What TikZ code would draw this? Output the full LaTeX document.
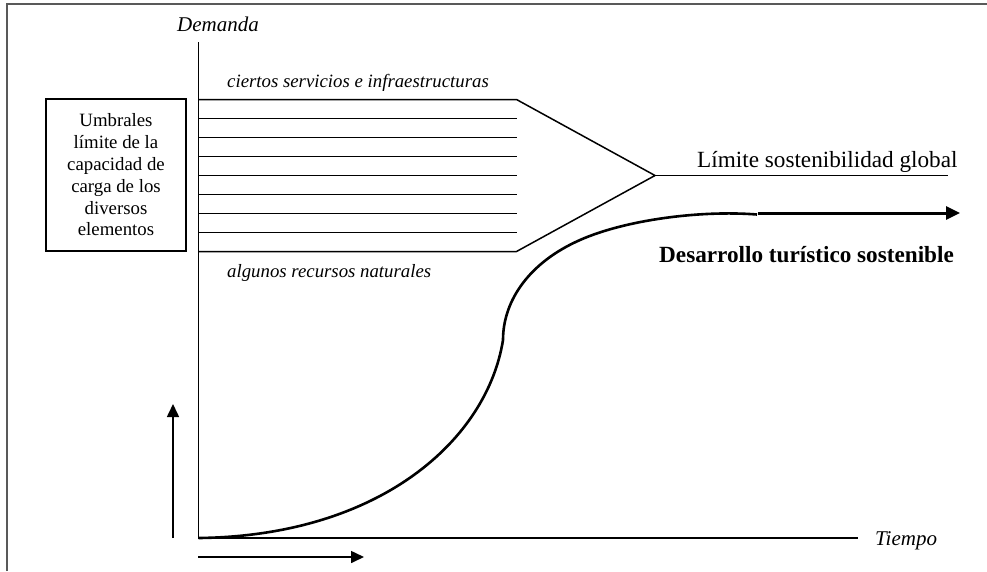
\documentclass[tikz,border=0pt]{standalone}
\usepackage{fontspec}
\setmainfont{Liberation Serif}
\usetikzlibrary{arrows.meta}
\tikzset{
  frameline/.style={draw=black!65, line width=2pt},
  axisline/.style={draw=black, line width=1.6pt},
  capline/.style={draw=black, line width=1.5pt},
  growth/.style={draw=black, line width=2.6pt},
  bigarrow/.style={draw=black, line width=3pt, -{Triangle[length=14pt,width=13pt]}},
  smallarrow/.style={draw=black, line width=1.6pt, -{Triangle[length=13pt,width=12pt]}},
  axislabel/.style={font=\fontsize{21}{24}\selectfont\itshape, inner sep=0pt, anchor=base west},
  smalllabel/.style={font=\fontsize{18.8}{22}\selectfont\itshape, inner sep=0pt, anchor=base west},
  biglabel/.style={font=\fontsize{23.2}{27}\selectfont, inner sep=0pt, anchor=base west},
  thresholdbox/.style={draw=black, line width=1.5pt, minimum width=140pt, minimum height=152pt,
    align=center, inner sep=0pt, font=\fontsize{18.8}{21.8}\selectfont},
}
\begin{document}
\begin{tikzpicture}[x=1pt,y=-1pt]
\useasboundingbox (0,0) rectangle (987,571);
\fill[white] (0,0) rectangle (987,571);
% frame
\coordinate (ftl) at (7,3.5);
\coordinate (ftr) at (987,3.5);
\coordinate (fbl) at (7,571);
\draw[frameline] (fbl) -- (ftl) -- (ftr);
% axes
\coordinate (origin) at (198.5,538);
\coordinate (ytop) at (198.5,42);
\coordinate (xend) at (858,538);
\draw[axisline] (ytop) -- (origin) -- (xend);
\node[axislabel] (demanda) at (177,31) {Demanda};
\node[axislabel] (tiempo) at (875,545) {Tiempo};
% direction arrows
\coordinate (ua0) at (173,538);
\coordinate (ua1) at (173,404);
\draw[smallarrow] (ua0) -- (ua1);
\coordinate (ra0) at (198,557);
\coordinate (ra1) at (364,557);
\draw[smallarrow] (ra0) -- (ra1);
% threshold lines
\foreach \i in {1,...,7} {
  \coordinate (l\i a) at (198.5,{99.5+19*\i});
  \coordinate (l\i b) at (516.5,{99.5+19*\i});
  \draw[capline] (l\i a) -- (l\i b);
}
\coordinate (topa) at (198.5,99.5);
\coordinate (topb) at (516.5,99.5);
\coordinate (bota) at (198.5,251.5);
\coordinate (botb) at (516.5,251.5);
\coordinate (apex) at (655,175.5);
\coordinate (limend) at (948,175.5);
\draw[capline] (topa) -- (topb) -- (apex) -- (botb) -- (bota);
\draw[capline] (apex) -- (limend);
\node[smalllabel] (ciertos) at (227,87) {ciertos servicios e infraestructuras};
\node[smalllabel] (algunos) at (227,277) {algunos recursos naturales};
\node[biglabel] (limite) at (697,167) {Límite sostenibilidad global};
\node[biglabel, font=\fontsize{23.2}{27}\selectfont\bfseries] (desarrollo) at (659,262) {Desarrollo turístico sostenible};
% box
\node[thresholdbox] (umbrales) at (116,175) {Umbrales\\límite de la\\capacidad de\\carga de los\\diversos\\elementos};
% growth curve
\coordinate (inflect) at (503,340);
\coordinate (bend) at (580,240);
\coordinate (plateau) at (757,214.5);
\coordinate (arrowstart) at (758,213);
\coordinate (arrowend) at (960,213);
\draw[growth] (origin) .. controls (380,536) and (487,440) .. (inflect)
  .. controls (503,300) and (530,262) .. (bend)
  .. controls (625,220) and (700,210) .. (plateau);
\draw[bigarrow] (arrowstart) -- (arrowend);
\end{tikzpicture}
\end{document}
